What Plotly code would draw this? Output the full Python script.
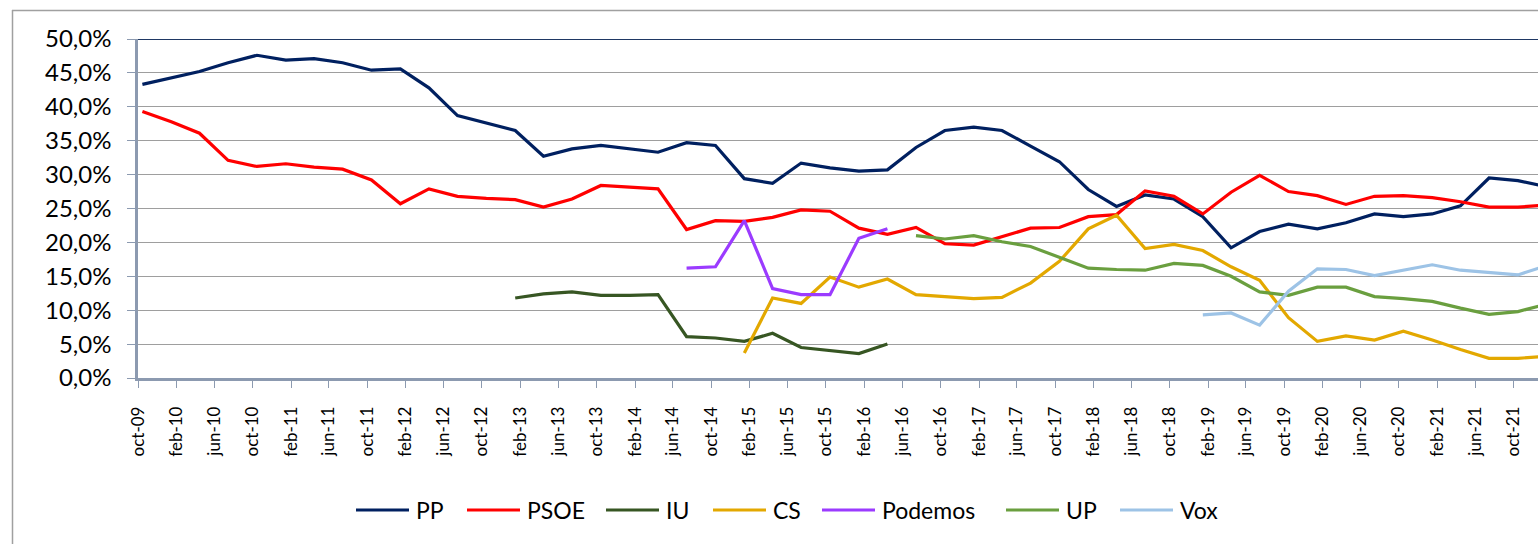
import pandas as pd
import plotly.graph_objects as go

# ---------------- data (percent) ----------------
first_date = "2009-10-15"          # quarterly observations

pp = [43.3, 44.2, 45.2, 46.5, 47.6, 46.9, 47.1, 46.5, 45.4, 45.6,
      42.8, 38.7, 37.6, 36.5, 32.7, 33.8, 34.3, 33.8, 33.3, 34.7,
      34.3, 29.4, 28.7, 31.7, 31.0, 30.5, 30.7, 34.0, 36.5, 37.0,
      36.5, 34.2, 31.9, 27.8, 25.3, 27.0, 26.4, 23.8, 19.2, 21.6,
      22.7, 22.0, 22.9, 24.2, 23.8, 24.2, 25.4, 29.5, 29.1, 28.2]
psoe = [39.3, 37.8, 36.1, 32.1, 31.2, 31.6, 31.1, 30.8, 29.2, 25.7,
        27.9, 26.8, 26.5, 26.3, 25.2, 26.4, 28.4, 28.2, 27.9, 21.9,
        23.2, 23.1, 23.7, 24.8, 24.6, 22.1, 21.2, 22.2, 19.8, 19.6,
        20.8, 22.1, 22.2, 23.8, 24.1, 27.6, 26.8, 24.2, 27.4, 29.9,
        27.5, 26.9, 25.6, 26.8, 26.9, 26.6, 26.0, 25.2, 25.2, 25.5]
iu_start = "2013-01-15"
iu = [11.8, 12.4, 12.7, 12.2, 12.2, 12.3, 6.1, 5.9, 5.4, 6.6, 4.5, 4.0, 3.6, 5.0]
podemos_start = "2014-07-15"
podemos = [16.2, 16.4, 23.2, 13.2, 12.3, 12.3, 20.6, 22.0]
cs_start = "2015-01-15"
cs = [3.7, 11.8, 11.0, 14.9, 13.4, 14.6, 12.3, 12.0, 11.7, 11.9,
      14.0, 17.2, 22.0, 24.0, 19.1, 19.7, 18.8, 16.4, 14.4, 8.9,
      5.4, 6.2, 5.6, 6.9, 5.6, 4.2, 2.9, 2.9, 3.2]
up_start = "2016-07-15"
up = [21.0, 20.5, 21.0, 20.1, 19.4, 17.8, 16.2, 16.0, 15.9, 16.9,
      16.6, 15.0, 12.7, 12.2, 13.4, 13.4, 12.0, 11.7, 11.3, 10.3,
      9.4, 9.8, 10.9]
vox_start = "2019-01-15"
vox = [9.3, 9.6, 7.8, 12.8, 16.1, 16.0, 15.1, 15.9, 16.7, 15.9, 15.5, 15.2, 16.6]

tick_labels = ["oct-09", "feb-10", "jun-10", "oct-10", "feb-11", "jun-11", "oct-11",
               "feb-12", "jun-12", "oct-12", "feb-13", "jun-13", "oct-13", "feb-14",
               "jun-14", "oct-14", "feb-15", "jun-15", "oct-15", "feb-16", "jun-16",
               "oct-16", "feb-17", "jun-17", "oct-17", "feb-18", "jun-18", "oct-18",
               "feb-19", "jun-19", "oct-19", "feb-20", "jun-20", "oct-20", "feb-21",
               "jun-21", "oct-21"]
first_tick = "2009-10-01"
y_ticks = [0, 0.05, 0.10, 0.15, 0.20, 0.25, 0.30, 0.35, 0.40, 0.45, 0.50]

series = [
    ("PP", first_date, pp, "#002060"),
    ("PSOE", first_date, psoe, "#FF0000"),
    ("IU", iu_start, iu, "#375623"),
    ("CS", cs_start, cs, "#E3A800"),
    ("Podemos", podemos_start, podemos, "#9B3BFF"),
    ("UP", up_start, up, "#6A9F3F"),
    ("Vox", vox_start, vox, "#9DC3E6"),
]

# ---------------- layout geometry (pixels) ----------------
W, H = 1538, 544
ML, MT, MB = 138, 39, 166
PW, PH = W - ML, H - MT - MB
legend_x_px = [356, 467, 606, 713, 822, 1006, 1120]
legend_y_px = 510
legend_line_len = 53
font_family = "Lato, 'Liberation Sans', sans-serif"


def px_to_paper_x(px):
    return (px - ML) / PW


def px_to_paper_y(py):
    return (H - MB - py) / PH


fig = go.Figure()
for name, start, vals, color in series:
    x = pd.date_range(start, periods=len(vals), freq=pd.DateOffset(months=3))
    fig.add_trace(go.Scatter(
        x=x, y=[v / 100 for v in vals], mode="lines", name=name,
        line=dict(color=color, width=3.2), showlegend=False,
        hoverinfo="x+y+name"))

tick_vals = pd.date_range(first_tick, periods=len(tick_labels), freq=pd.DateOffset(months=4))

border_color = "#A0A0A0"
shapes = [
    # outer chart border (top and left edges visible)
    dict(type="line", xref="paper", yref="paper",
         x0=px_to_paper_x(12), x1=1.0, y0=px_to_paper_y(10.5), y1=px_to_paper_y(10.5),
         line=dict(color=border_color, width=1.5), layer="above"),
    dict(type="line", xref="paper", yref="paper",
         x0=px_to_paper_x(12.5), x1=px_to_paper_x(12.5), y0=px_to_paper_y(10), y1=px_to_paper_y(H + 5),
         line=dict(color=border_color, width=1.5), layer="above"),
    # dark top border line at 50%
    dict(type="line", xref="paper", yref="y", x0=0, x1=1, y0=0.5, y1=0.5,
         line=dict(color="#1F3864", width=2), layer="above"),
]
annotations = []
for (name, _, _, color), lx in zip(series, legend_x_px):
    shapes.append(dict(type="line", xref="paper", yref="paper",
                       x0=px_to_paper_x(lx), x1=px_to_paper_x(lx + legend_line_len),
                       y0=px_to_paper_y(legend_y_px), y1=px_to_paper_y(legend_y_px),
                       line=dict(color=color, width=3.2)))
    annotations.append(dict(xref="paper", yref="paper",
                            x=px_to_paper_x(lx + legend_line_len + 5),
                            y=px_to_paper_y(legend_y_px),
                            text=name, showarrow=False, xanchor="left", yanchor="middle",
                            font=dict(family=font_family, size=23, color="#000000")))

fig.update_layout(
    width=W, height=H,
    margin=dict(l=ML, r=0, t=MT, b=MB, pad=0),
    paper_bgcolor="white", plot_bgcolor="white",
    separators=",.",
    showlegend=False,
    shapes=shapes, annotations=annotations,
    font=dict(family=font_family, color="#000000"),
    xaxis=dict(
        range=["2009-10-01", "2021-12-18"],
        tickvals=tick_vals, ticktext=tick_labels, tickangle=-90,
        tickfont=dict(family=font_family, size=17, color="#000000"),
        showgrid=False, zeroline=False,
        showline=True, linecolor="#8C9AB0", linewidth=2.5,
        ticks="outside", ticklen=7, tickwidth=1.3, tickcolor="#8C9AB0",
        ticklabelstandoff=12,
    ),
    yaxis=dict(
        range=[0, 0.5], tickvals=y_ticks, tickformat=".1%",
        tickfont=dict(family=font_family, size=24, color="#000000"),
        showgrid=True, gridcolor="#9E9E9E", gridwidth=1.3,
        zeroline=False,
        showline=True, linecolor="#8C9AB0", linewidth=2.5,
        ticks="outside", ticklen=8, tickwidth=1.3, tickcolor="#8C9AB0",
        ticklabelstandoff=11,
    ),
)

fig.write_html("out.html", config={"displayModeBar": False},
               post_script="document.body.style.margin='0px';document.body.style.overflow='hidden';")
